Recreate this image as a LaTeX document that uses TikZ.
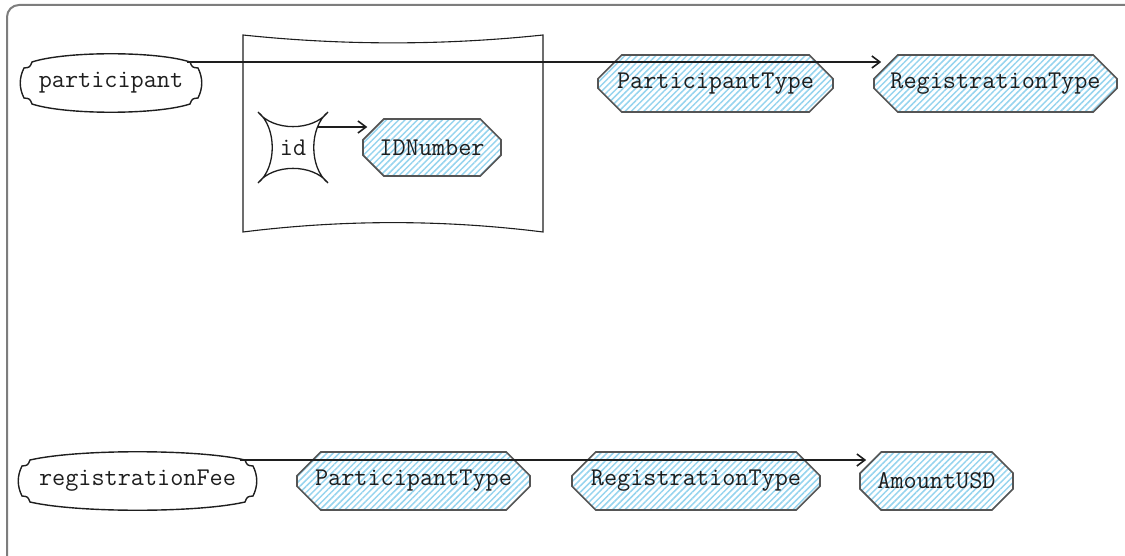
\documentclass[tikz,border=0pt]{standalone}
\usetikzlibrary{shapes.misc,patterns.meta,arrows.meta,calc}
\definecolor{hatch}{RGB}{150,212,238}
\definecolor{framegray}{RGB}{125,125,125}
\definecolor{edgegray}{RGB}{85,85,85}
\definecolor{ink}{RGB}{30,30,30}
\tikzset{
  lbl/.style={font=\ttfamily\fontsize{25.5}{30}\selectfont, text=ink, inner sep=0pt},
  typebox/.style={lbl, chamfered rectangle, chamfered rectangle xsep=13pt, chamfered rectangle ysep=13pt,
    draw=edgegray, line width=1.6pt, pattern={Lines[angle=45,distance=4.4pt,line width=1.5pt]}, pattern color=hatch},
  blobline/.style={draw=ink, line width=1.4pt},
  starline/.style={draw=ink, line width=1.3pt},
  grpline/.style={draw=ink, line width=1.1pt},
  conn/.style={draw=ink, line width=1.9pt, -{Straight Barb[length=8pt,width=12pt,line width=1.6pt]}},
}
\newcommand\drawblob[3]{%
  \begin{scope}[shift={(#1.center)}]
    \draw[blobline] ({-#2+12},{-#3+8}) .. controls ({-#2/2},{-#3-3}) and ({#2/2},{-#3-3}) .. ({#2-12},{-#3+8})
      .. controls ({#2-9.8},{-#3+13.4}) .. ({#2-4},{-#3+14})
      .. controls ({#2+1},{-(#3-14)/3}) and ({#2+1},{(#3-14)/3}) .. ({#2-4},{#3-14})
      .. controls ({#2-9.8},{#3-13.4}) .. ({#2-12},{#3-8})
      .. controls ({#2/2},{#3+3}) and ({-#2/2},{#3+3}) .. ({-#2+12},{#3-8})
      .. controls ({-#2+9.8},{#3-13.4}) .. ({-#2+4},{#3-14})
      .. controls ({-#2-1},{(#3-14)/3}) and ({-#2-1},{-(#3-14)/3}) .. ({-#2+4},{-#3+14})
      .. controls ({-#2+9.8},{-#3+13.4}) .. cycle;
  \end{scope}}
\begin{document}
\begin{tikzpicture}[x=1pt,y=-1pt]
\useasboundingbox (0,0) rectangle (1125,556);
\clip (0,0) rectangle (1125,556);
\draw[framegray, line width=2pt, rounded corners=12pt] (7,5) rectangle (1145,575);

% group container
\node[inner sep=0pt, minimum width=300pt, minimum height=197pt] (grp) at (393,133.5) {};
\begin{scope}[shift={(grp.center)}]
  \draw[grpline] (-150,-98.5) .. controls (-50,-88) and (50,-88) .. (150,-98.5) -- (150,98.5)
    .. controls (50,86) and (-50,86) .. (-150,98.5) -- cycle;
\end{scope}

% blob nodes
\node[lbl, minimum width=182pt, minimum height=58pt] (participant) at (111,83) {participant};
\drawblob{participant}{91}{29}
\node[lbl, minimum width=239pt, minimum height=58pt] (regfee) at (137.5,481) {registrationFee};
\drawblob{regfee}{119.5}{29}

% star node
\node[lbl, minimum width=70pt, minimum height=71pt] (id) at (293,147.5) {id};
\begin{scope}[shift={(id.center)}]
  \draw[starline] (-35,-35.5) .. controls (-20,-16) and (20,-16) .. (35,-35.5)
    .. controls (16,-20) and (16,20) .. (35,35.5)
    .. controls (20,16) and (-20,16) .. (-35,35.5)
    .. controls (-16,20) and (-16,-20) .. cycle;
\end{scope}

% type nodes
\node[typebox, minimum width=138pt, minimum height=57pt] (idnum) at (432,147.5) {IDNumber};
\node[typebox, minimum width=235pt, minimum height=57pt] (pt1) at (715.5,83.5) {ParticipantType};
\node[typebox, minimum width=243pt, minimum height=57pt] (rt1) at (995.5,83.5) {RegistrationType};
\node[typebox, minimum width=233pt, minimum height=58pt] (pt2) at (413.5,481) {ParticipantType};
\node[typebox, minimum width=248pt, minimum height=58pt] (rt2) at (696,481) {RegistrationType};
\node[typebox, minimum width=153pt, minimum height=58pt] (amt) at (936.5,481) {AmountUSD};

% connectors
\path ([shift={(76,-21)}]participant.center) coordinate (s1);
\draw[conn] (s1) -- ($(s1 -| rt1.west)+(8,0)$);
\path ([shift={(25,-20.5)}]id.center) coordinate (s2);
\draw[conn] (s2) -- ($(s2 -| idnum.west)+(5,0)$);
\path ([shift={(102.5,-21)}]regfee.center) coordinate (s3);
\draw[conn] (s3) -- ($(s3 -| amt.west)+(7,0)$);
\end{tikzpicture}
\end{document}
